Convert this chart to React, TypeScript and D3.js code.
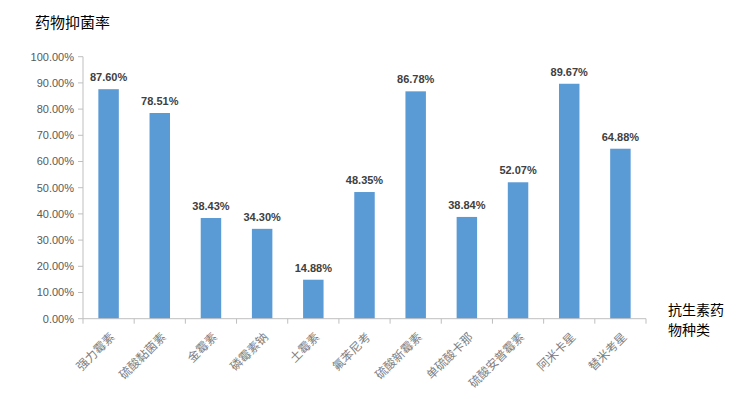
import { useEffect, useRef } from 'react'
import * as d3 from 'd3'

const categories = ['强力霉素', '硫酸黏菌素', '金霉素', '磷霉素钠', '土霉素', '氟苯尼考', '硫酸新霉素', '单硫酸卡那', '硫酸安普霉素', '阿米卡星', '替米考星']
const rates = [87.6, 78.51, 38.43, 34.3, 14.88, 48.35, 86.78, 38.84, 52.07, 89.67, 64.88]
const yTicks = [0, 10, 20, 30, 40, 50, 60, 70, 80, 90, 100]
const xTitle = ['抗生素药', '物种类']

const width = 742
const height = 399
const cjk = '"Noto Sans CJK SC", "Noto Sans", sans-serif'

export default function App() {
  const svgRef = useRef<SVGSVGElement>(null)

  useEffect(() => {
    if (!svgRef.current) return
    const svg = d3.select(svgRef.current)
    svg.selectAll('*').remove()

    const left = 83
    const right = 646
    const top = 56.7
    const bottom = 318.7

    const x = d3.scaleBand<string>().domain(categories).range([left, right]).paddingInner(0.6).paddingOuter(0.3)
    const xb = d3.scaleBand<string>().domain(categories).range([left, right])
    const y = d3.scaleLinear().domain([0, 100]).range([bottom, top])

    // title
    svg.append('text')
      .attr('x', 35).attr('y', 28)
      .style('font-family', cjk).style('font-size', '15px').style('fill', '#000')
      .text('药物抑菌率')

    // y axis
    svg.append('line')
      .attr('x1', left).attr('x2', left).attr('y1', top).attr('y2', bottom)
      .attr('stroke', '#bfbfbf')
    yTicks.forEach(t => {
      svg.append('line')
        .attr('x1', left - 5).attr('x2', left).attr('y1', y(t)).attr('y2', y(t))
        .attr('stroke', '#bfbfbf')
      svg.append('text')
        .attr('x', left - 9).attr('y', y(t)).attr('dy', '0.35em')
        .attr('text-anchor', 'end')
        .style('font-family', 'Arial, "Liberation Sans", sans-serif').style('font-size', '11px').style('fill', '#595959')
        .text(t.toFixed(2) + '%')
    })

    // bars
    svg.selectAll('rect.bar')
      .data(rates)
      .enter()
      .append('rect')
      .attr('class', 'bar')
      .attr('x', (_, i) => x(categories[i])!)
      .attr('width', x.bandwidth())
      .attr('y', d => y(d))
      .attr('height', d => bottom - y(d))
      .attr('fill', '#5b9bd5')

    // value labels
    svg.selectAll('text.val')
      .data(rates)
      .enter()
      .append('text')
      .attr('class', 'val')
      .attr('x', (_, i) => x(categories[i])! + x.bandwidth() / 2)
      .attr('y', d => y(d) - 8)
      .attr('text-anchor', 'middle')
      .style('font-family', 'Arial, "Liberation Sans", sans-serif').style('font-size', '11px')
      .style('font-weight', 'bold').style('fill', '#404040')
      .text(d => d.toFixed(2) + '%')

    // x axis
    svg.append('line')
      .attr('x1', left).attr('x2', right).attr('y1', bottom).attr('y2', bottom)
      .attr('stroke', '#bfbfbf')
    const edges = categories.map(c => xb(c)!).concat([right])
    edges.forEach(e => {
      svg.append('line')
        .attr('x1', e).attr('x2', e).attr('y1', bottom).attr('y2', bottom + 5)
        .attr('stroke', '#bfbfbf')
    })

    categories.forEach(c => {
      const cx = xb(c)! + xb.bandwidth() / 2 + 4
      const cy = bottom + 16
      svg.append('text')
        .attr('transform', `translate(${cx},${cy}) rotate(-45)`)
        .attr('text-anchor', 'end')
        .attr('dy', '0.35em')
        .style('font-family', cjk).style('font-size', '12px').style('fill', '#7f7f7f')
        .text(c)
    })

    // x axis title, two lines
    xTitle.forEach((line, i) => {
      svg.append('text')
        .attr('x', 668).attr('y', 315 + i * 20)
        .style('font-family', cjk).style('font-size', '14px').style('fill', '#000')
        .text(line)
    })
  }, [])

  return (
    <svg ref={svgRef} width={width} height={height}
      style={{ position: 'absolute', left: 0, top: 0, background: '#fff' }} />
  )
}
